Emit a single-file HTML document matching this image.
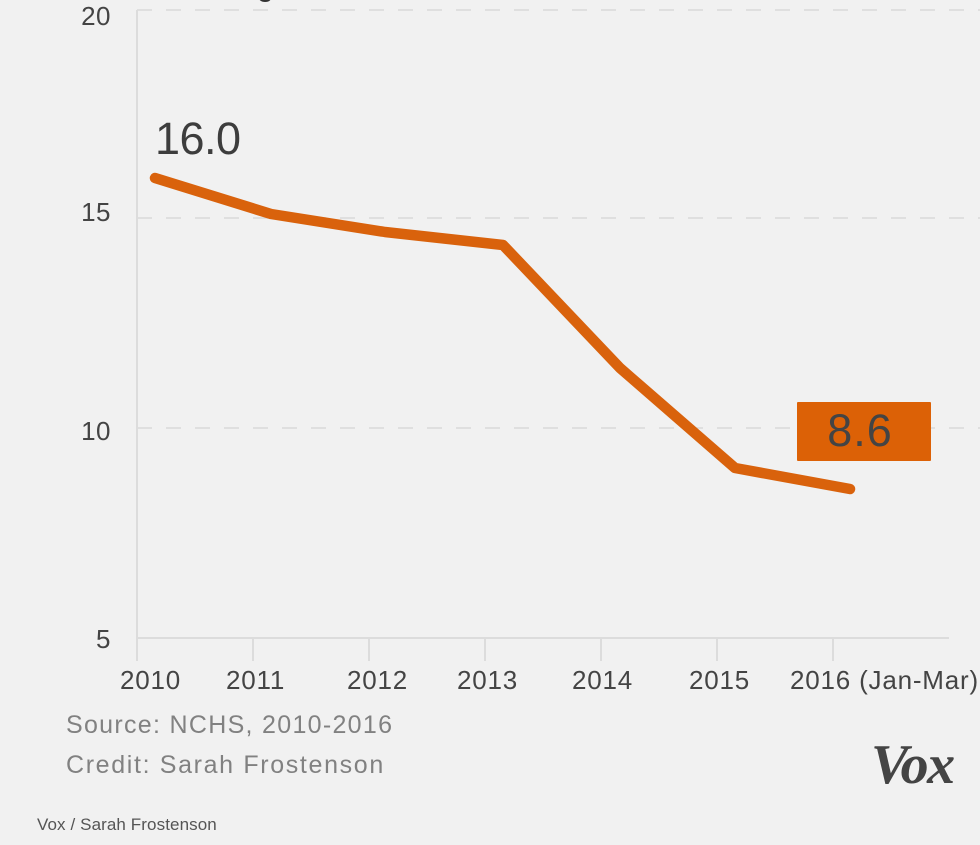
<!DOCTYPE html>
<html>
<head>
<meta charset="utf-8">
<style>
  html, body { margin:0; padding:0; background:#f1f1f1; }
  body { width:980px; height:845px; overflow:hidden; }
  svg { display:block; }
  text { font-family: "Liberation Sans", sans-serif; }
</style>
</head>
<body>
<svg width="980" height="845" viewBox="0 0 980 845" xmlns="http://www.w3.org/2000/svg">
  <rect x="0" y="0" width="980" height="845" fill="#f1f1f1"/>

  <!-- cut-off title descender -->
  <text x="257" y="-4" font-size="30" fill="#333">g</text>

  <!-- gridlines -->
  <g stroke="#d9d9d9" stroke-width="1.5" stroke-dasharray="15 14">
    <line x1="137" y1="10" x2="980" y2="10"/>
    <line x1="137" y1="218" x2="980" y2="218"/>
    <line x1="137" y1="428" x2="980" y2="428"/>
  </g>
  <!-- axes -->
  <g stroke="#dcdcdc" stroke-width="2">
    <line x1="137" y1="10" x2="137" y2="661"/>
    <line x1="137" y1="638" x2="949" y2="638"/>
    <line x1="253" y1="638" x2="253" y2="661"/>
    <line x1="369" y1="638" x2="369" y2="661"/>
    <line x1="485" y1="638" x2="485" y2="661"/>
    <line x1="601" y1="638" x2="601" y2="661"/>
    <line x1="717" y1="638" x2="717" y2="661"/>
    <line x1="833" y1="638" x2="833" y2="661"/>
  </g>

  <!-- y labels -->
  <g font-size="26" fill="#444" text-anchor="end" letter-spacing="0.5">
    <text x="111" y="25">20</text>
    <text x="111" y="221">15</text>
    <text x="111" y="440">10</text>
    <text x="111" y="648">5</text>
  </g>

  <!-- x labels -->
  <g font-size="26" fill="#444" letter-spacing="0.8">
    <text x="120" y="689">2010</text>
    <text x="226" y="689">2011</text>
    <text x="347" y="689">2012</text>
    <text x="457" y="689">2013</text>
    <text x="572" y="689">2014</text>
    <text x="689" y="689">2015</text>
    <text x="790" y="689">2016 (Jan-Mar)</text>
  </g>

  <!-- series -->
  <polyline points="155,178 271,214 385,232 503,245 620,368 735,468 850,489"
    fill="none" stroke="#d9620c" stroke-width="10.5" stroke-linejoin="round" stroke-linecap="round"/>

  <!-- value labels -->
  <text x="155" y="154" font-size="45" fill="#3d3d3d" letter-spacing="-0.5">16.0</text>
  <rect x="797" y="402" width="134" height="59" fill="#dc6106" rx="1"/>
  <text x="860" y="446" font-size="45" fill="#444" text-anchor="middle" letter-spacing="1">8.6</text>

  <!-- source -->
  <text x="66" y="733" font-size="25" fill="#818181" letter-spacing="1.3">Source: NCHS, 2010-2016</text>
  <text x="66" y="773" font-size="25" fill="#818181" letter-spacing="1.65">Credit: Sarah Frostenson</text>

  <!-- Vox logo -->
  <text x="871" y="783" style="font-family:'Liberation Serif', serif; font-weight:bold; font-style:italic;" font-size="56" fill="#444" letter-spacing="-1.5">Vox</text>

  <!-- caption -->
  <text x="37" y="830" font-size="17" fill="#555" letter-spacing="0.1">Vox / Sarah Frostenson</text>
</svg>
</body>
</html>
